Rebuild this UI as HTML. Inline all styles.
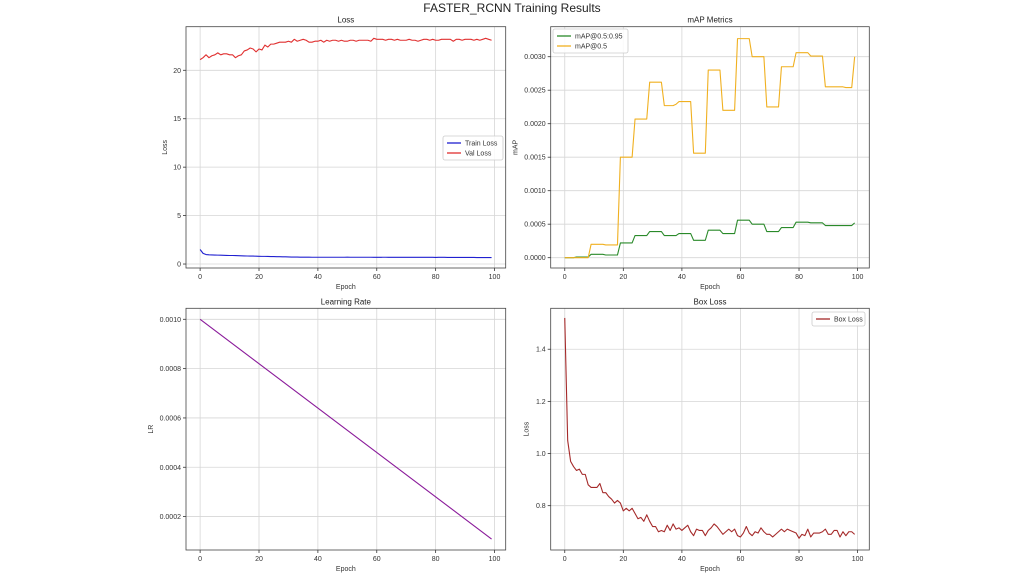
<!DOCTYPE html>
<html><head><meta charset="utf-8"><style>
html,body{margin:0;padding:0;background:#fff;}
svg{display:block;font-family:"Liberation Sans","DejaVu Sans",sans-serif;}
</style></head><body>
<svg id="fig" width="1024" height="574" viewBox="0 0 1024 574">
<text x="512" y="12" font-size="12" text-anchor="middle" fill="#222">FASTER_RCNN Training Results</text>
</svg>
<script>
const epochs = Array.from({length:100},(_,i)=>i);
const valLoss = [21.1,21.3,21.6,21.3,21.5,21.6,21.8,21.6,21.7,21.7,21.6,21.6,21.3,21.5,21.6,22.0,22.1,22.3,22.2,21.9,22.2,22.1,22.6,22.4,22.7,22.7,22.8,22.9,22.9,22.9,23.0,22.9,23.2,23.0,23.1,23.2,23.1,22.9,22.9,23.0,23.0,23.1,22.9,23.1,23.0,23.1,23.1,23.0,23.1,23.0,23.0,23.1,23.1,23.0,23.1,23.1,23.1,23.1,23.0,23.3,23.2,23.2,23.2,23.1,23.2,23.2,23.1,23.2,23.1,23.1,23.1,23.2,23.1,23.1,23.0,23.1,23.2,23.2,23.1,23.2,23.1,23.1,23.2,23.2,23.2,23.2,23.0,23.2,23.2,23.1,23.2,23.2,23.2,23.1,23.2,23.1,23.2,23.3,23.2,23.1];
const trainLoss = [1.5,1.1,0.98,0.95,0.94,0.93,0.92,0.91,0.9,0.89,0.88,0.88,0.87,0.86,0.85,0.84,0.83,0.82,0.82,0.81,0.8,0.79,0.79,0.78,0.77,0.77,0.76,0.76,0.75,0.74,0.73,0.72,0.72,0.72,0.71,0.71,0.71,0.71,0.7,0.7,0.7,0.7,0.7,0.7,0.7,0.7,0.7,0.7,0.7,0.7,0.71,0.7,0.7,0.7,0.7,0.7,0.7,0.7,0.7,0.69,0.69,0.69,0.7,0.7,0.69,0.69,0.69,0.69,0.69,0.69,0.69,0.69,0.69,0.69,0.69,0.69,0.69,0.69,0.69,0.69,0.68,0.69,0.69,0.69,0.68,0.68,0.68,0.68,0.68,0.68,0.68,0.68,0.68,0.68,0.67,0.67,0.67,0.67,0.67,0.67];
const map50 = [0,0,0,0,0,0,0,0,0,0.0002,0.0002,0.0002,0.0002,0.0002,0.00019,0.00019,0.00019,0.00019,0.00019,0.0015,0.0015,0.0015,0.0015,0.0015,0.00207,0.00207,0.00207,0.00207,0.00207,0.00262,0.00262,0.00262,0.00262,0.00262,0.00227,0.00227,0.00227,0.00227,0.00229,0.00233,0.00233,0.00233,0.00233,0.00233,0.00156,0.00156,0.00156,0.00156,0.00156,0.0028,0.0028,0.0028,0.0028,0.0028,0.0022,0.0022,0.0022,0.0022,0.0022,0.00327,0.00327,0.00327,0.00327,0.00327,0.003,0.003,0.003,0.003,0.003,0.00225,0.00225,0.00225,0.00225,0.00225,0.00285,0.00285,0.00285,0.00285,0.00285,0.00306,0.00306,0.00306,0.00306,0.00306,0.00301,0.00301,0.00301,0.00301,0.00301,0.00255,0.00255,0.00255,0.00255,0.00255,0.00255,0.00255,0.00254,0.00254,0.00254,0.003];
const map5095 = [0,0,0,0,0.00001,0.00001,0.00001,0.00001,0.00001,0.00005,0.00005,0.00005,0.00005,0.00005,0.00004,0.00004,0.00004,0.00004,0.00004,0.00022,0.00022,0.00022,0.00022,0.00022,0.00033,0.00033,0.00033,0.00033,0.00033,0.00039,0.00039,0.00039,0.00039,0.00039,0.00033,0.00033,0.00033,0.00033,0.00033,0.00036,0.00036,0.00036,0.00036,0.00036,0.00026,0.00026,0.00026,0.00026,0.00026,0.00041,0.00041,0.00041,0.00041,0.00041,0.00036,0.00036,0.00036,0.00036,0.00036,0.00056,0.00056,0.00056,0.00056,0.00056,0.0005,0.0005,0.0005,0.0005,0.0005,0.00039,0.00039,0.00039,0.00039,0.00039,0.00045,0.00045,0.00045,0.00045,0.00045,0.00053,0.00053,0.00053,0.00053,0.00053,0.00052,0.00052,0.00052,0.00052,0.00052,0.00048,0.00048,0.00048,0.00048,0.00048,0.00048,0.00048,0.00048,0.00048,0.00048,0.00052];
const lrEpochs = [0,99];
const lrValues = [0.001,0.000109];
const boxLoss = [1.52,1.05,0.97,0.95,0.935,0.94,0.92,0.92,0.88,0.87,0.87,0.87,0.885,0.85,0.85,0.835,0.825,0.81,0.82,0.81,0.78,0.79,0.78,0.79,0.77,0.75,0.755,0.74,0.765,0.74,0.72,0.72,0.70,0.705,0.70,0.725,0.705,0.73,0.71,0.715,0.705,0.715,0.725,0.70,0.685,0.71,0.705,0.705,0.685,0.705,0.715,0.73,0.72,0.705,0.69,0.70,0.71,0.70,0.71,0.685,0.68,0.695,0.72,0.695,0.685,0.70,0.695,0.715,0.70,0.69,0.69,0.68,0.69,0.70,0.71,0.70,0.71,0.705,0.70,0.695,0.675,0.69,0.685,0.71,0.68,0.695,0.695,0.695,0.70,0.71,0.69,0.69,0.705,0.705,0.68,0.70,0.685,0.70,0.70,0.69];
const xTicks = [0,20,40,60,80,100];
const lossTicks = [0,5,10,15,20];
const mapTicks = [0,0.0005,0.001,0.0015,0.002,0.0025,0.003];
const lrTicks = [0.0002,0.0004,0.0006,0.0008,0.001];
const boxTicks = [0.8,1.0,1.2,1.4];

const NS='http://www.w3.org/2000/svg';
const svg=document.getElementById('fig');
function mk(tag,attrs,parent){const e=document.createElementNS(NS,tag);for(const k in attrs)e.setAttribute(k,attrs[k]);(parent||svg).appendChild(e);return e;}

function panel(o){
  const g=mk('g',{});
  
  
  const X=v=>o.l+(v-o.xmin)/(o.xmax-o.xmin)*(o.r-o.l);
  const Y=v=>o.b-(v-o.ymin)/(o.ymax-o.ymin)*(o.b-o.t);
  mk('rect',{x:o.l,y:o.t,width:o.r-o.l,height:o.b-o.t,fill:'#fff'},g);
  xTicks.forEach(v=>{const x=X(v);
    const gl=mk('line',{x1:x,x2:x,y1:o.t,y2:o.b,stroke:'#d6d6d6','stroke-width':0.8},g);
    
    mk('line',{x1:x,x2:x,y1:o.b,y2:o.b+3,stroke:'#333','stroke-width':0.8},g);
    const t=mk('text',{x:x,y:o.b+11,'font-size':7,'text-anchor':'middle',fill:'#333'},g);t.textContent=v;
    });
  o.yt.forEach(v=>{const y=Y(v);
    const gl=mk('line',{x1:o.l,x2:o.r,y1:y,y2:y,stroke:'#d6d6d6','stroke-width':0.8},g);
    
    mk('line',{x1:o.l-3,x2:o.l,y1:y,y2:y,stroke:'#333','stroke-width':0.8},g);
    const t=mk('text',{x:o.l-5,y:y+2.5,'font-size':7,'text-anchor':'end',fill:'#333'},g);t.textContent=o.fmt(v);
    });
  o.series.forEach(s=>{
    const xs=s.x||epochs;
    const p=mk('polyline',{points:s.y.map((v,i)=>X(xs[i])+','+Y(v)).join(' '),fill:'none',stroke:s.c,'stroke-width':1.1,'stroke-linejoin':'round'},g);
    });
  mk('rect',{x:o.l,y:o.t,width:o.r-o.l,height:o.b-o.t,fill:'none',stroke:'#444','stroke-width':0.8},g);
  const tt=mk('text',{x:(o.l+o.r)/2,y:o.t-4,'font-size':8,'text-anchor':'middle',fill:'#222'},g);tt.textContent=o.title;
  
  const xl=mk('text',{x:(o.l+o.r)/2,y:o.b+21,'font-size':7,'text-anchor':'middle',fill:'#333'},g);xl.textContent='Epoch';
  
  const yx=o.l-o.ylo,yy=(o.t+o.b)/2;
  const yl=mk('text',{x:yx,y:yy,'font-size':7,'text-anchor':'middle',fill:'#333',transform:'rotate(-90 '+yx+' '+yy+')'},g);yl.textContent=o.ylabel;
  
  if(o.legend){const L=o.legend;
    const lg=mk('g',{},g);
    mk('rect',{x:L.x,y:L.y,width:L.w,height:L.items.length*10+4,fill:'#fff','fill-opacity':0.85,stroke:'#ccc','stroke-width':0.8,rx:2},lg);
    L.items.forEach((it,i)=>{const yy=L.y+7+i*10;
      mk('line',{x1:L.x+4,x2:L.x+18,y1:yy,y2:yy,stroke:it.c,'stroke-width':1.3},lg);
      const t=mk('text',{x:L.x+22,y:yy+2.5,'font-size':7,fill:'#333'},lg);t.textContent=it.t;
      });}
}
const f0=v=>String(v), f4=v=>v.toFixed(4), f1=v=>v.toFixed(1);
panel({name:'loss-panel',l:186,r:505.7,t:26.7,b:268,xmin:-4.8,xmax:103.8,ymin:-0.41,ymax:24.5,yt:lossTicks,fmt:f0,title:'Loss',ylabel:'Loss',ylo:19,
  series:[{y:trainLoss,c:'#2020d0',name:'train-loss-line'},{y:valLoss,c:'#e03030',name:'val-loss-line'}],
  legend:{x:443,y:136,w:60,items:[{t:'Train Loss',c:'#2020d0'},{t:'Val Loss',c:'#e03030'}]}});
panel({name:'map-panel',l:550.7,r:869.3,t:26.7,b:268,xmin:-4.8,xmax:104,ymin:-0.000154,ymax:0.003448,yt:mapTicks,fmt:f4,title:'mAP Metrics',ylabel:'mAP',ylo:33,
  series:[{y:map5095,c:'#2a8a2a',name:'map-50-95-line'},{y:map50,c:'#f0b020',name:'map-50-line'}],
  legend:{x:553,y:29,w:75,items:[{t:'mAP@0.5:0.95',c:'#2a8a2a'},{t:'mAP@0.5',c:'#f0b020'}]}});
panel({name:'lr-panel',l:186,r:505.7,t:308.3,b:550,xmin:-4.8,xmax:103.8,ymin:0.0000645,ymax:0.0010446,yt:lrTicks,fmt:f4,title:'Learning Rate',ylabel:'LR',ylo:33,
  series:[{x:lrEpochs,y:lrValues,c:'#8a1a9a',name:'lr-line'}]});
panel({name:'box-loss-panel',l:550.7,r:869.3,t:308.3,b:550,xmin:-4.8,xmax:104,ymin:0.630,ymax:1.557,yt:boxTicks,fmt:f1,title:'Box Loss',ylabel:'Loss',ylo:22,
  series:[{y:boxLoss,c:'#a52a2a',name:'box-loss-line'}],
  legend:{x:812,y:312,w:53,items:[{t:'Box Loss',c:'#a52a2a'}]}});
</script>
</body></html>
